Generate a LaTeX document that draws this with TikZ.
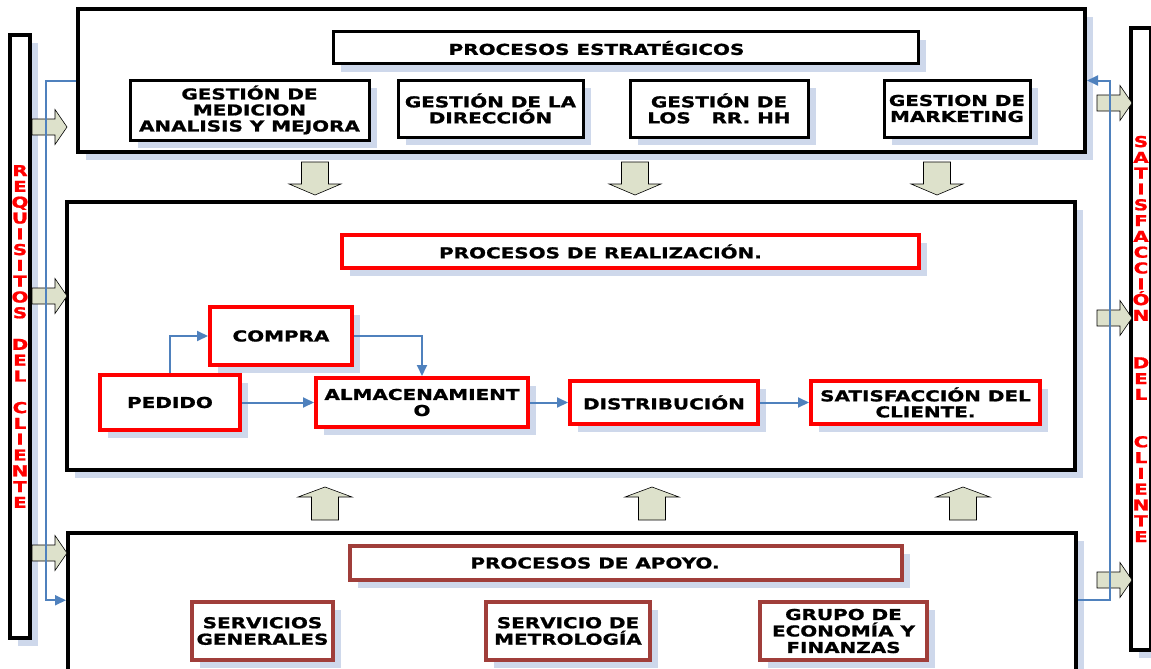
\documentclass[tikz,border=0pt]{standalone}
\usepackage{fontspec}
\setmainfont{DejaVu Sans}
\newfontfamily\widefont[FakeStretch=1.33,FakeBold=1.2]{DejaVu Sans}
\usetikzlibrary{arrows.meta,shadows}
\definecolor{flowblue}{RGB}{79,129,189}
\definecolor{blockfill}{RGB}{221,225,203}
\definecolor{shadowblue}{RGB}{206,216,235}
\definecolor{apoyored}{RGB}{160,62,58}
\def\rightblock(#1,#2){\draw[blockarrow] (#1,#2-8) -- ++(23,0) -- ++(0,-9.5) -- ++(12,17.5) -- ++(-12,17.5) -- ++(0,-9.5) -- ++(-23,0) -- cycle;}
\def\downblock(#1,#2){\draw[blockarrow] (#1-13.5,#2) -- ++(27,0) -- ++(0,22) -- ++(12.5,0) -- ++(-26,11) -- ++(-26,-11) -- ++(12.5,0) -- cycle;}
\def\upblock(#1,#2){\draw[blockarrow] (#1,#2) -- ++(27,10) -- ++(-13.5,0) -- ++(0,23) -- ++(-27,0) -- ++(0,-23) -- ++(-13.5,0) -- cycle;}

\begin{document}
\begin{tikzpicture}[x=1pt, y=-1pt,
	shade box/.style={fill=white, drop shadow={shadow xshift=8pt, shadow yshift=-8pt, fill=shadowblue, opacity=1}},
	bigbox/.style={draw, line width=4pt, shade box, inner sep=0pt},
	sidebar/.style={draw, line width=4pt, shade box, inner sep=0pt, text=red, align=center, font=\widefont\bfseries\fontsize{15}{15.8}\selectfont},
	subbox/.style={draw, line width=3pt, shade box, inner sep=0pt, align=center, font=\widefont\bfseries\fontsize{15}{16}\selectfont},
	redbox/.style={draw=red, line width=4pt, shade box, inner sep=0pt, align=center, font=\widefont\bfseries\fontsize{15}{16}\selectfont},
	apoyobox/.style={draw=apoyored, line width=3.5pt, shade box, inner sep=0pt, align=center, font=\widefont\bfseries\fontsize{15}{16.5}\selectfont},
	blockarrow/.style={draw=black, line width=0.6pt, fill=blockfill, line join=miter},
	flow/.style={draw=flowblue, line width=2pt, -{Triangle[length=11pt,width=10pt]}}]
	\useasboundingbox (0,0) rectangle (1151,669);
	
	%%%%% SIDE BARS %%%%%
	\node[sidebar, minimum width=20, minimum height=603] (requisitos) at (20,336.5)
		{R\\E\\Q\\U\\I\\S\\I\\T\\O\\S\\[15.8pt]D\\E\\L\\[15.8pt]C\\L\\I\\E\\N\\T\\E};
	\node[sidebar, minimum width=20, minimum height=622] (satisfaccion) at (1141,339)
		{S\\A\\T\\I\\S\\F\\A\\C\\C\\I\\Ó\\N\\[31.6pt]D\\E\\L\\[31.6pt]C\\L\\I\\E\\N\\T\\E};
	
	%%%%% PROCESOS ESTRATEGICOS %%%%%
	\node[bigbox, minimum width=1007, minimum height=143] (estrat) at (581.5,80.5) {};
	\node[subbox, minimum width=585, minimum height=32] (estrath) at (625.5,48) {PROCESOS ESTRATÉGICOS\hspace*{58pt}};
	\node[subbox, minimum width=239, minimum height=60] (medicion) at (249.5,110) {GESTIÓN DE\\MEDICION\\ANALISIS Y MEJORA};
	\node[subbox, minimum width=185, minimum height=57] (direccion) at (490.5,108.5) {GESTIÓN DE LA\\DIRECCIÓN};
	\node[subbox, minimum width=178, minimum height=57] (rrhh) at (719,108.5) {GESTIÓN DE\\LOS\ \ \ RR. HH};
	\node[subbox, minimum width=146, minimum height=57] (marketing) at (957,108.5) {GESTION DE\\MARKETING};
	
	%%%%% PROCESOS DE REALIZACION %%%%%
	\node[bigbox, minimum width=1008, minimum height=268] (realiz) at (571,336) {};
	\node[redbox, minimum width=577, minimum height=33] (realizh) at (630.5,251.5) {PROCESOS DE REALIZACIÓN.\hspace*{60pt}};
	\node[redbox, minimum width=140, minimum height=55] (pedido) at (170,402.5) {PEDIDO};
	\node[redbox, minimum width=142, minimum height=58] (compra) at (281,336) {COMPRA};
	\node[redbox, minimum width=212, minimum height=49] (almac) at (422,402.5) {ALMACENAMIENT\\O};
	\node[redbox, minimum width=188, minimum height=43] (distrib) at (664,402.5) {DISTRIBUCIÓN};
	\node[redbox, minimum width=229, minimum height=43] (satcliente) at (925.5,402.5) {SATISFACCIÓN DEL\\CLIENTE.};
	
	%%%%% PROCESOS DE APOYO %%%%%
	\node[bigbox, minimum width=1008, minimum height=167] (apoyo) at (572,616.5) {};
	\node[apoyobox, minimum width=552, minimum height=34] (apoyoh) at (626,563) {PROCESOS DE APOYO.\hspace*{62pt}};
	\node[apoyobox, minimum width=141, minimum height=58] (servgen) at (262.5,631) {SERVICIOS\\GENERALES};
	\node[apoyobox, minimum width=164, minimum height=58] (metro) at (568,631) {SERVICIO DE\\METROLOGÍA};
	\node[apoyobox, minimum width=167, minimum height=58] (economia) at (843.5,631) {GRUPO DE\\ECONOMÍA Y\\FINANZAS};
	
	%%%%% BLOCK ARROWS %%%%%
	\rightblock(32,127)
	\rightblock(32,296)
	\rightblock(32,553)
	\rightblock(1097,103)
	\rightblock(1097,318)
	\rightblock(1097,580)
	\downblock(315,162)
	\downblock(635,162)
	\downblock(937,162)
	\upblock(325,487)
	\upblock(652,487)
	\upblock(963,487)
	
	%%%%% FLOWS %%%%%
	\draw[flow] (estrat.west) -- ++(-30,0) |- (apoyo.west |- servgen.north);
	\draw[flow] (apoyo.east |- servgen.north) -- ++(32,0) |- (estrat.east);
	\draw[flow] (pedido.north) |- (compra.west);
	\draw[flow] (compra.east) -| (almac.north);
	\draw[flow] (pedido.east) -- (almac.west);
	\draw[flow] (almac.east) -- (distrib.west);
	\draw[flow] (distrib.east) -- (satcliente.west);
\end{tikzpicture}
\end{document}
